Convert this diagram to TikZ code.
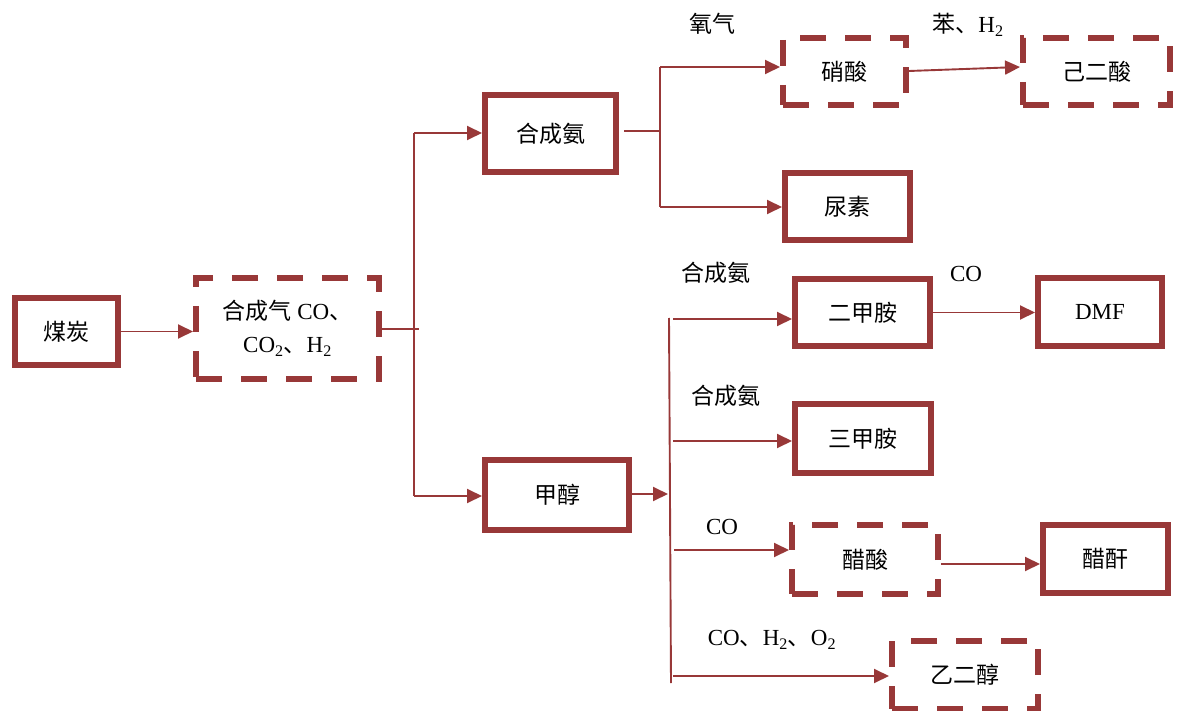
\documentclass[tikz,border=0pt]{standalone}
\usepackage{fontspec}
\setmainfont{Liberation Serif}
\newfontfamily\cjk{Noto Sans CJK SC}
\usetikzlibrary{arrows.meta}
\definecolor{dr}{RGB}{152,56,56}
\begin{document}
\begin{tikzpicture}[x=1pt,y=-1pt,
  every node/.style={font=\fontsize{23}{27}\selectfont},
  solidbox/.style={draw=dr,line width=6pt,rectangle,inner sep=0pt,align=center},
  dashbox/.style={solidbox,dash pattern=on 26pt off 19pt},
  conn/.style={draw=dr,line width=1.9pt},
  arr/.style={conn,-{Triangle[length=15pt,width=14pt]}},
  lbl/.style={inner sep=0pt}]
\useasboundingbox (0,0) rectangle (1184,711);
% boxes
\node[solidbox,minimum width=103pt,minimum height=67pt] (coal) at (66.5,331.5) {\cjk 煤炭};
\node[dashbox,minimum width=183pt,minimum height=101pt] (syngas) at (287.5,328.5)
  {{\cjk 合成气} CO{\cjk 、}\\[6pt]CO\textsubscript{2}{\cjk 、}H\textsubscript{2}};
\node[solidbox,minimum width=131pt,minimum height=77pt] (ammonia) at (550.5,133.5) {\cjk 合成氨};
\node[dashbox,minimum width=123pt,minimum height=67pt] (nitric) at (844.5,71.5) {\cjk 硝酸};
\node[dashbox,minimum width=147pt,minimum height=67pt] (adipic) at (1096.5,71.5) {\cjk 己二酸};
\node[solidbox,minimum width=125pt,minimum height=67pt] (urea) at (847.5,206.5) {\cjk 尿素};
\node[solidbox,minimum width=144pt,minimum height=70pt] (methanol) at (557,495) {\cjk 甲醇};
\node[solidbox,minimum width=135pt,minimum height=67pt] (dma) at (862.5,312.5) {\cjk 二甲胺};
\node[solidbox,minimum width=124pt,minimum height=68pt] (dmf) at (1100,312) {DMF};
\node[solidbox,minimum width=136pt,minimum height=69pt] (tma) at (863,438.5) {\cjk 三甲胺};
\node[dashbox,minimum width=146pt,minimum height=69pt] (acetic) at (865,559.5) {\cjk 醋酸};
\node[solidbox,minimum width=125pt,minimum height=68pt] (anhyd) at (1105.5,559) {\cjk 醋酐};
\node[dashbox,minimum width=146pt,minimum height=68pt] (glycol) at (965,675) {\cjk 乙二醇};
% labels
\node[lbl] (l1) at (712,24) {\cjk 氧气};
\node[lbl] (l2) at (968,25) {{\cjk 苯、}H\textsubscript{2}};
\node[lbl] (l3) at (716,273) {\cjk 合成氨};
\node[lbl] (l4) at (966,274) {CO};
\node[lbl] (l5) at (726,396) {\cjk 合成氨};
\node[lbl] (l6) at (722,527) {CO};
\node[lbl] (l7) at (772,640) {CO{\cjk 、}H\textsubscript{2}{\cjk 、}O\textsubscript{2}};
% coordinates
\coordinate (j1) at (419,329);
\coordinate (t1top) at (414,133);
\coordinate (t1bot) at (414,496);
\coordinate (a1) at (624,131);
\coordinate (a2) at (660,131);
\coordinate (v1top) at (660,67);
\coordinate (v1bot) at (660,207);
\coordinate (t2m) at (668,494);
\coordinate (t2top) at (669,318);
\coordinate (t2bot) at (671,683);
\coordinate (b1) at (673,319);
\coordinate (b2) at (673,441);
\coordinate (b3) at (674,550);
\coordinate (b4) at (673,676);
\coordinate (c1) at (941,564);
\coordinate (n1) at (909,71);
\coordinate (n2) at (1020,67);
% connectors
\draw[arr] (coal.east) -- (coal.east -| syngas.west);
\draw[conn] (syngas.east |- j1) -- (j1);
\draw[conn] (t1top) -- (t1bot);
\draw[arr] (t1top) -- (t1top -| ammonia.west);
\draw[arr] (t1bot) -- (t1bot -| methanol.west);
\draw[conn] (a1) -- (a2);
\draw[conn] (v1top) -- (v1bot);
\draw[arr] (v1top) -- (v1top -| nitric.west);
\draw[arr] (v1bot) -- (v1bot -| urea.west);
\draw[arr] (n1) -- (n2);
\draw[arr] (methanol.east |- t2m) -- (t2m);
\draw[conn] (t2top) -- (t2bot);
\draw[arr] (b1) -- (b1 -| dma.west);
\draw[arr] (b2) -- (b2 -| tma.west);
\draw[arr] (b3) -- (b3 -| acetic.west);
\draw[arr] (b4) -- (b4 -| glycol.west);
\draw[arr] (dma.east) -- (dma.east -| dmf.west);
\draw[arr] (c1) -- (c1 -| anhyd.west);
\end{tikzpicture}
\end{document}
